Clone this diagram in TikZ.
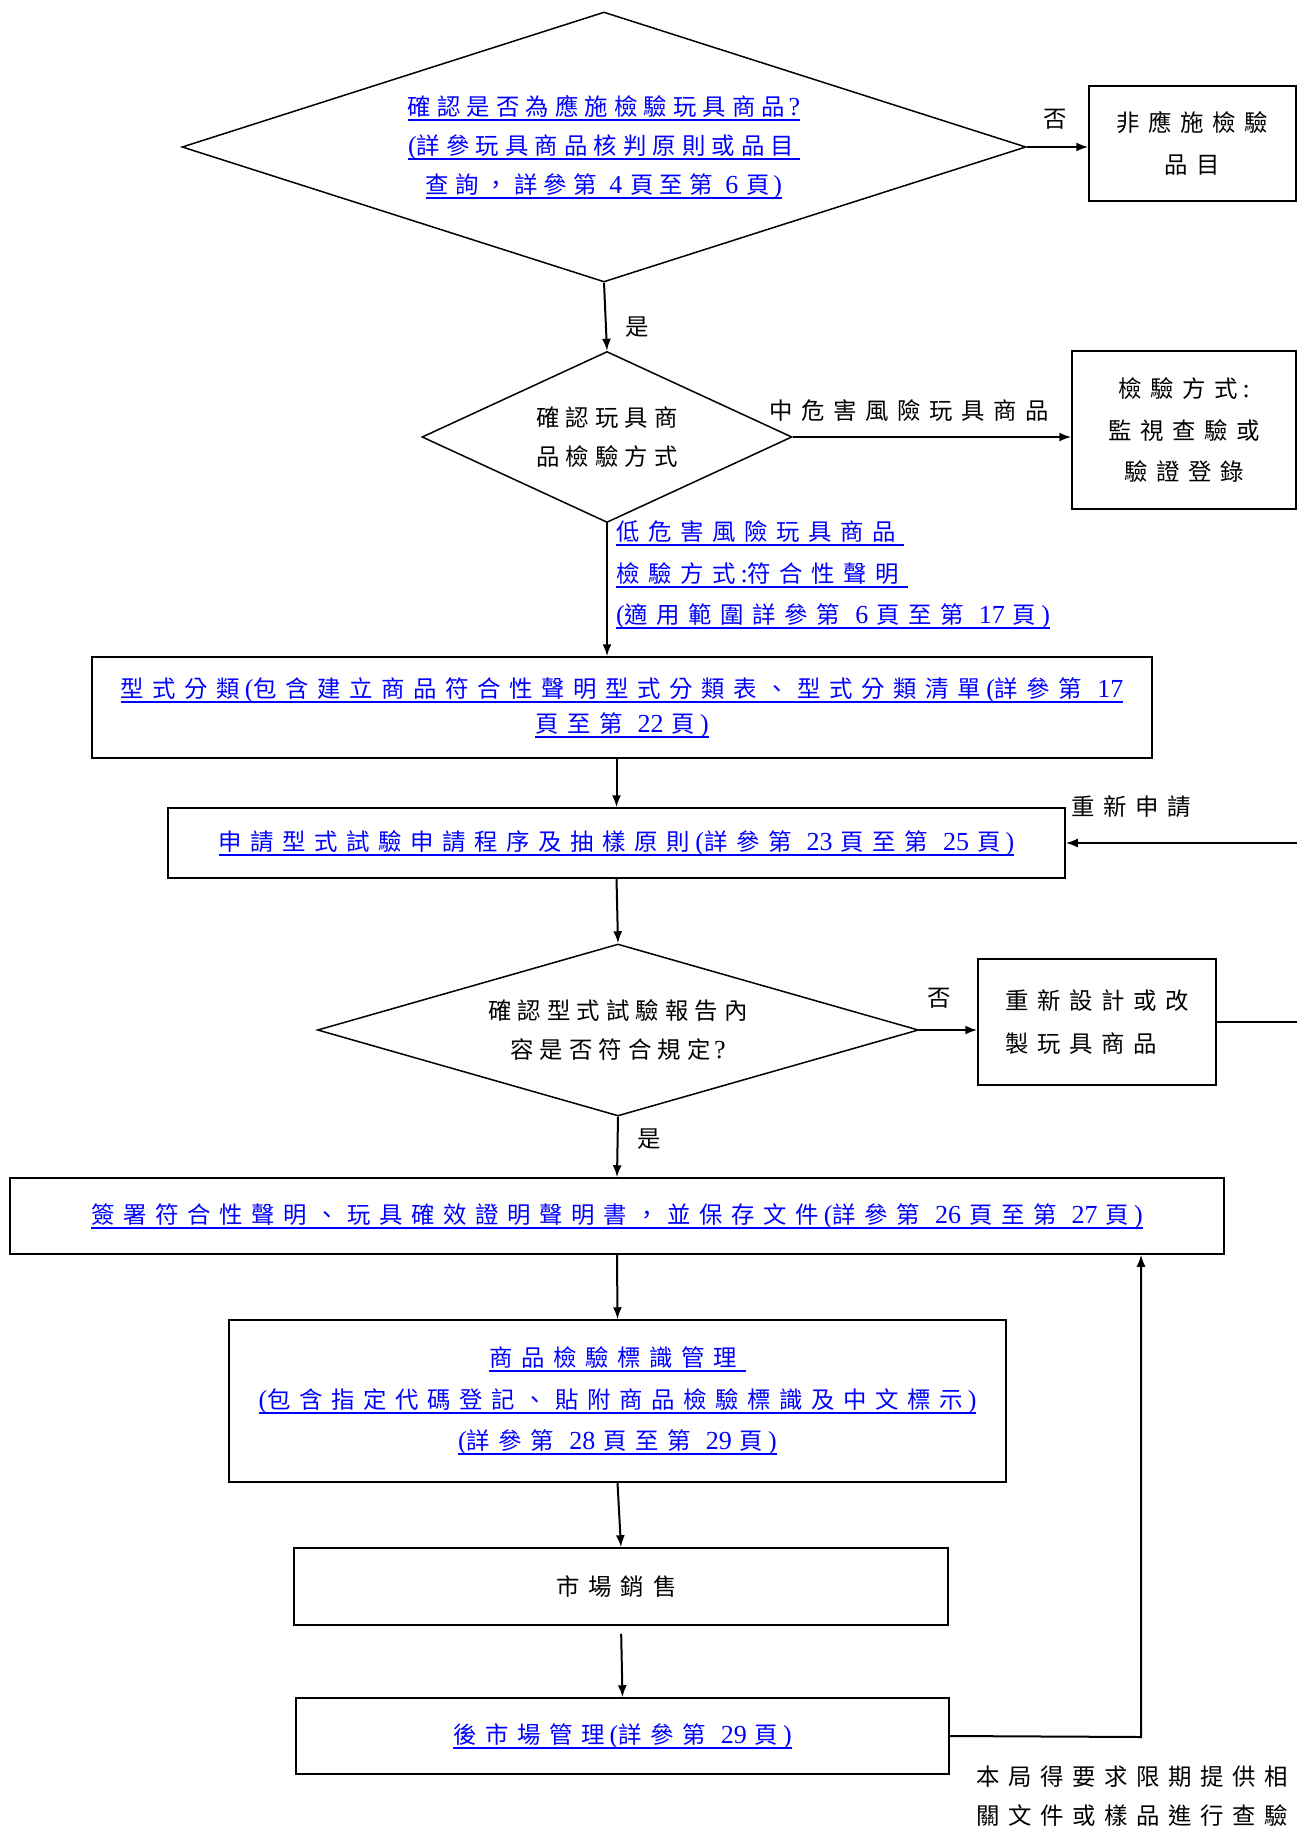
\documentclass[tikz,border=0pt]{standalone}
\usepackage{fontspec}
\setmainfont{Liberation Serif}
\newfontfamily\cjkbox{Noto Sans CJK TC}[Scale=0.9, LetterSpace=36.8]
\newfontfamily\cjkdiamond{Noto Sans CJK TC}[Scale=0.9, LetterSpace=26]
\usetikzlibrary{arrows.meta, shapes.geometric, calc}

% CJK characters switch to the CJK font by themselves
\XeTeXinterchartokenstate=1
\newXeTeXintercharclass\cjkclass
\newcount\cjkcode
\newcommand\setcjkrange[2]{\cjkcode=#1 \loop\XeTeXcharclass\cjkcode=\cjkclass
  \advance\cjkcode by 1 \ifnum\cjkcode<#2 \repeat}
\setcjkrange{"3000}{"3040}
\setcjkrange{"4E00}{"A000}
\setcjkrange{"FF00}{"FFF0}
\let\cjkfont\cjkbox
\def\cjkgap{8.6pt}
\def\cjktail{5pt}
\XeTeXinterchartoks 0 \cjkclass = {\begingroup\cjkfont\relax}
\XeTeXinterchartoks 4095 \cjkclass = {\begingroup\cjkfont\relax}
\XeTeXinterchartoks \cjkclass 0 = {\endgroup\kern\cjktail\relax}
\XeTeXinterchartoks \cjkclass 4095 = {\endgroup\hskip\cjkgap\relax}

% page numbers between CJK words, underlined link text
\newcommand\pagenum[1]{\kern6.5pt#1\kern8pt\relax}
\newcommand\linkline[1]{\setbox0=\hbox{#1}\rlap{\vrule width\wd0 height -3.5pt depth 5.5pt}\box0}

\begin{document}
\begin{tikzpicture}[x=1pt, y=-1pt,
    every node/.style={font=\fontsize{26}{41.5}\selectfont, inner sep=0pt},
    box/.style={draw, rectangle, line width=1.5pt, align=center},
    decision/.style={draw, diamond, line width=1.5pt, align=center,
        font=\fontsize{26}{39}\selectfont\let\cjkfont\cjkdiamond\def\cjkgap{6.1pt}\def\cjktail{3.6pt}},
    link/.style={text=blue},
    flow/.style={line width=2pt, -{Latex[length=12pt, width=9pt]}}]
    \useasboundingbox (0,0) rectangle (1297,1827);
    \clip (0,0) rectangle (1297,1827);

    \node[decision, link, minimum width=844pt, minimum height=270pt, aspect=3.1] (check) at (604,147) {
        \linkline{確認是否為應施檢驗玩具商品?}\\
        \linkline{(詳參玩具商品核判原則或品目}\\
        \linkline{查詢，詳參第\pagenum{4}頁至第\pagenum{6}頁)}};
    \node[box, minimum width=207pt, minimum height=115pt] (exempt) at (1192.5,143.5) {非應施檢驗\\品目};
    \node[decision, minimum width=370pt, minimum height=171pt, aspect=2.2] (method) at (607,437) {確認玩具商\\品檢驗方式};
    \node[box, minimum width=224pt, minimum height=158pt] (monitor) at (1184,430) {檢驗方式:\\監視查驗或\\驗證登錄};
    \node[box, link, minimum width=1060pt, minimum height=101pt, font=\fontsize{26}{35}\selectfont] (typing) at (622,707.5) {
        \linkline{型式分類(包含建立商品符合性聲明型式分類表、型式分類清單(詳參第\kern6.5pt 17}\\
        \linkline{頁至第\pagenum{22}頁)}};
    \node[box, link, minimum width=897pt, minimum height=70pt] (apply) at (616.5,843) {\linkline{申請型式試驗申請程序及抽樣原則(詳參第\pagenum{23}頁至第\pagenum{25}頁)}};
    \node[decision, minimum width=601pt, minimum height=172pt, aspect=3.5] (report) at (618,1030) {確認型式試驗報告內\\容是否符合規定?};
    \node[box, align=left, minimum width=238pt, minimum height=126pt, font=\fontsize{26}{43}\selectfont] (redesign) at (1097,1022) {重新設計或改\\製玩具商品};
    \node[box, link, minimum width=1214pt, minimum height=76pt] (declare) at (617,1216) {\linkline{簽署符合性聲明、玩具確效證明聲明書，並保存文件(詳參第\pagenum{26}頁至第\pagenum{27}頁)}};
    \node[box, link, minimum width=777pt, minimum height=162pt] (marking) at (617.5,1401) {
        \linkline{商品檢驗標識管理}\\
        \linkline{(包含指定代碼登記、貼附商品檢驗標識及中文標示)}\\
        \linkline{(詳參第\pagenum{28}頁至第\pagenum{29}頁)}};
    \node[box, minimum width=654pt, minimum height=77pt] (sales) at (621,1586.5) {市場銷售};
    \node[box, link, minimum width=653pt, minimum height=76pt] (postmarket) at (622.5,1736) {\linkline{後市場管理(詳參第\pagenum{29}頁)}};

    % labels
    \node (no1) at (1055,119) {否};
    \node (yes1) at (637,327) {是};
    \node (midrisk) at (909,411) {中危害風險玩具商品};
    \node[link, anchor=west, align=left] (lowrisk) at (616,575) {
        \linkline{低危害風險玩具商品}\\
        \linkline{檢驗方式:符合性聲明}\\
        \linkline{(適用範圍詳參第\pagenum{6}頁至第\pagenum{17}頁)}};
    \node (reapply) at (1131,807) {重新申請};
    \node (no2) at (939,998) {否};
    \node (yes2) at (649,1139) {是};
    \node[anchor=west, align=left, font=\fontsize{26}{39}\selectfont] (request) at (976,1796) {本局得要求限期提供相\\關文件或樣品進行查驗};

    \draw[flow] (check.east) -- (check.east -| exempt.west);
    \draw[flow] (check.south) -- (method.north);
    \draw[flow] (method.east) -- (method.east -| monitor.west);
    \draw[flow] (method.south) -- (method.south |- typing.north);
    \draw[flow] (typing.south -| apply.north) -- (apply.north);
    \draw[flow] (apply.south) -- (report.north);
    \draw[flow] (report.east) -- (report.east -| redesign.west);
    \draw[flow] (report.south) -- (declare.north);
    \draw[flow] (declare.south) -- (marking.north);
    \draw[flow] (marking.south) -- (sales.north);
    \draw[flow, shorten <=8pt] (sales.south) -- (postmarket.north);

    % loops back
    \coordinate (recheck) at (1141,1737);
    \draw[flow] (postmarket.east) -- (recheck) -- (recheck |- declare.south);
    \draw[flow] (redesign.east) -- ++(120,0) |- (apply.east);
\end{tikzpicture}
\end{document}
